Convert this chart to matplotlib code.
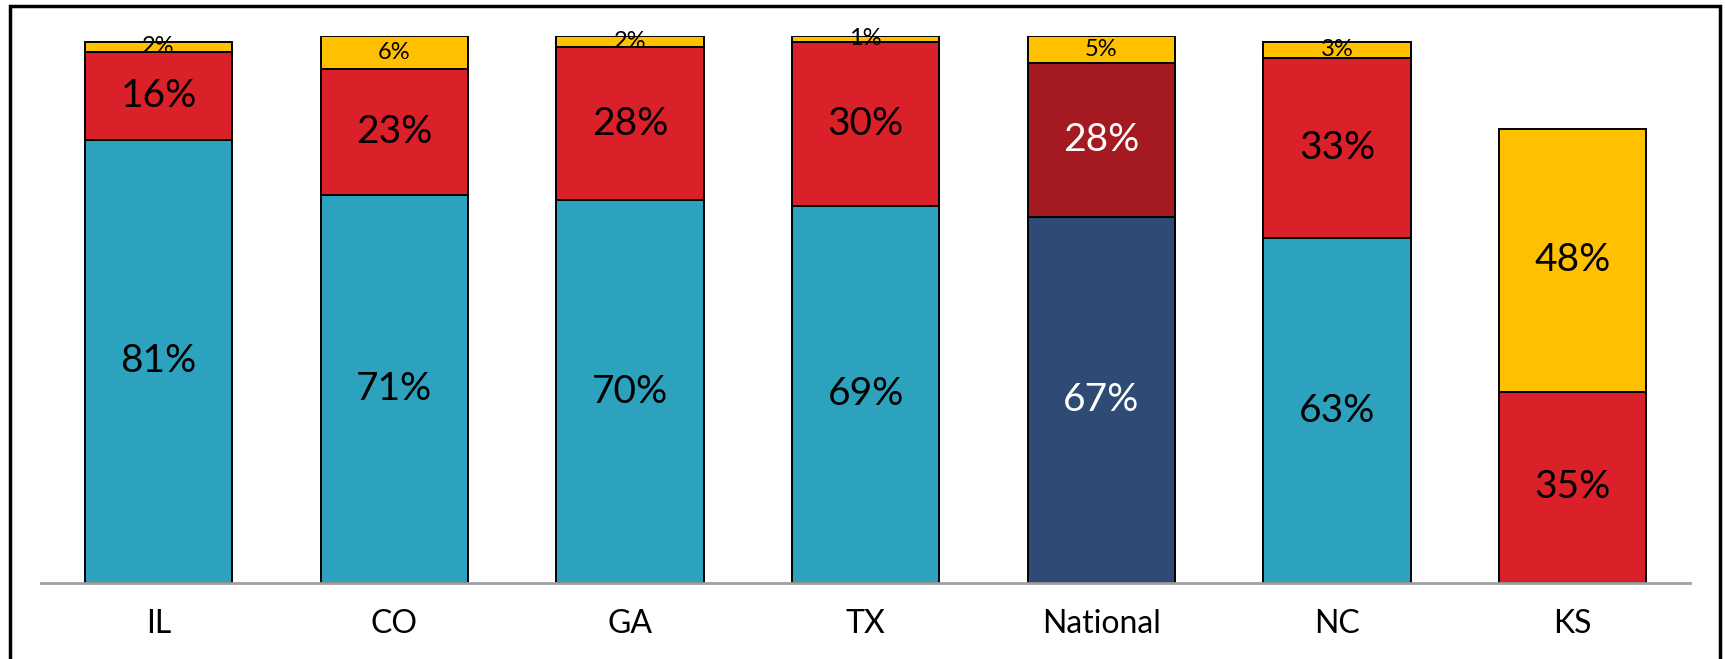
import matplotlib.pyplot as plt
from matplotlib.patches import Rectangle

plt.rcParams['font.family'] = ['Lato', 'DejaVu Sans']

states = ['IL', 'CO', 'GA', 'TX', 'National', 'NC', 'KS']
bottom_pct = [81, 71, 70, 69, 67, 63, 0]
middle_pct = [16, 23, 28, 30, 28, 33, 35]
top_pct = [2, 6, 2, 1, 5, 3, 48]

BLUE = '#2ca2bf'
RED = '#da2029'
YELLOW = '#ffc000'
NAVY = '#2d4b75'
DARK_RED = '#a51920'

fig = plt.figure(figsize=(17.25, 6.59), dpi=100)
ax = fig.add_axes([0.0236, 0.1153, 0.9564, 0.83])

x = range(len(states))
width = 0.625

# national bar gets its own darker shades
blue_cols = [NAVY if s == 'National' else BLUE for s in states]
red_cols = [DARK_RED if s == 'National' else RED for s in states]

ax.bar(x, bottom_pct, width, color=blue_cols, edgecolor='black', linewidth=1.4)
mid_base = bottom_pct
ax.bar(x, middle_pct, width, bottom=mid_base, color=red_cols,
       edgecolor='black', linewidth=1.4)
top_base = [a + b for a, b in zip(bottom_pct, middle_pct)]
ax.bar(x, top_pct, width, bottom=top_base, color=YELLOW,
       edgecolor='black', linewidth=1.4)

for i, s in enumerate(states):
    txt_col = 'white' if s == 'National' else 'black'
    if bottom_pct[i] > 0:
        ax.text(i, bottom_pct[i] / 2, f'{bottom_pct[i]}%', ha='center', va='center',
                fontsize=28, color=txt_col)
    ax.text(i, mid_base[i] + middle_pct[i] / 2, f'{middle_pct[i]}%', ha='center',
            va='center', fontsize=28, color=txt_col)
    fs = 28 if top_pct[i] > 10 else 17
    ax.text(i, top_base[i] + top_pct[i] / 2, f'{top_pct[i]}%', ha='center',
            va='center', fontsize=fs, color='black')

ax.set_xlim(-0.5, len(states) - 0.5)
ax.set_ylim(0, 100)
ax.set_xticks(list(x))
ax.set_xticklabels(states, fontsize=23)
ax.tick_params(axis='x', length=0, pad=19)
ax.set_yticks([])
for side in ['top', 'left', 'right']:
    ax.spines[side].set_visible(False)
ax.spines['bottom'].set_color('#a0a0a0')
ax.spines['bottom'].set_linewidth(2)

# outer frame
fig.patches.append(Rectangle((10 / 1725, -0.05), 1710 / 1725, 1 - 6 / 659 + 0.05,
                             transform=fig.transFigure, fill=False,
                             edgecolor='black', linewidth=2.5))

fig.savefig('out.png', dpi=100)
